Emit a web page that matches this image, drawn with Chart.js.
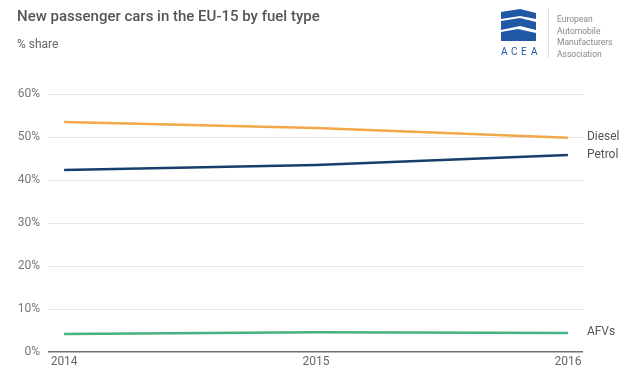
<!DOCTYPE html>
<html>
<head>
<meta charset="utf-8">
<script src="https://cdn.jsdelivr.net/npm/chart.js@4"></script>
<style>
  html, body { margin: 0; padding: 0; background: #fff; }
  #wrap { width: 640px; height: 380px; }
</style>
</head>
<body>
<div id="wrap"><canvas id="chart" width="640" height="380"></canvas></div>
<script>
// Data
const years = [2014, 2015, 2016];
const diesel = [53.5, 52.1, 49.8];
const petrol = [42.3, 43.5, 45.8];
const afvs = [4.2, 4.6, 4.4];
const yTicks = [0, 10, 20, 30, 40, 50, 60];

const FONT = 'Roboto, "Noto Sans", sans-serif';

// Title, subtitle, logo and end-of-line labels
const decor = {
    id: 'decor',
    afterDraw(chart) {
        const c = chart.ctx;
        c.save();
        c.textBaseline = 'middle';
        c.textAlign = 'left';
        c.fillStyle = '#555';
        c.font = '500 15px ' + FONT;
        c.fillText('New passenger cars in the EU-15 by fuel type', 17, 17);
        c.fillStyle = '#666';
        c.font = '12px ' + FONT;
        c.fillText('% share', 17, 45);

        // ACEA logo
        c.fillStyle = '#2158a5';
        c.beginPath();
        c.moveTo(501, 12); c.lineTo(520, 9); c.lineTo(536, 13); c.lineTo(536, 19);
        c.lineTo(520, 16); c.lineTo(501, 19); c.closePath(); c.fill();
        c.beginPath();
        c.moveTo(501, 21); c.lineTo(520, 18); c.lineTo(536, 22); c.lineTo(536, 30);
        c.lineTo(520, 26); c.lineTo(501, 30); c.closePath(); c.fill();
        c.beginPath();
        c.moveTo(501, 32); c.lineTo(518, 29); c.lineTo(536, 33); c.lineTo(536, 41);
        c.lineTo(501, 41); c.closePath(); c.fill();
        c.font = '10px ' + FONT;
        c.fillStyle = '#2158a5';
        const letters = ['A', 'C', 'E', 'A'];
        letters.forEach((l, i) => c.fillText(l, 501 + i * 10, 52));
        c.strokeStyle = '#ddd';
        c.lineWidth = 1;
        c.beginPath(); c.moveTo(548.5, 8); c.lineTo(548.5, 58); c.stroke();
        c.fillStyle = '#888';
        c.font = '8.5px ' + FONT;
        ['European', 'Automobile', 'Manufacturers', 'Association'].forEach((t, i) => {
            c.fillText(t, 557, 20 + i * 11.5);
        });

        // Series labels at the line ends
        const x = chart.scales.x;
        const y = chart.scales.y;
        const lx = x.getPixelForValue(years[years.length - 1]) + 19;
        c.fillStyle = '#555';
        c.font = '12px ' + FONT;
        c.fillText('Diesel', lx, y.getPixelForValue(diesel[2]) - 1);
        c.fillText('Petrol', lx, y.getPixelForValue(petrol[2]));
        c.fillText('AFVs', lx, y.getPixelForValue(afvs[2]) - 1);
        c.restore();
    }
};

new Chart(document.getElementById('chart'), {
    type: 'line',
    data: {
        datasets: [
            { label: 'Diesel', data: years.map((yr, i) => ({ x: yr, y: diesel[i] })), borderColor: '#f0a848' },
            { label: 'Petrol', data: years.map((yr, i) => ({ x: yr, y: petrol[i] })), borderColor: '#173f6c' },
            { label: 'AFVs', data: years.map((yr, i) => ({ x: yr, y: afvs[i] })), borderColor: '#45b282' }
        ]
    },
    options: {
        responsive: false,
        animation: false,
        layout: { padding: { top: 94, right: 57, left: 0, bottom: 0 } },
        elements: {
            line: { borderWidth: 2.5, tension: 0 },
            point: { radius: 0 }
        },
        plugins: {
            legend: { display: false },
            tooltip: { enabled: false }
        },
        scales: {
            x: {
                type: 'linear',
                min: 2014 - 0.064,
                max: 2016 + 0.06,
                afterBuildTicks: (s) => { s.ticks = years.map(v => ({ value: v })); },
                afterFit: (s) => { s.height = 28; },
                ticks: {
                    color: '#666',
                    font: { family: FONT, size: 12 },
                    padding: 3,
                    callback: (v) => String(v)
                },
                grid: { display: false, drawTicks: false },
                border: { display: false }
            },
            y: {
                min: 0,
                max: 60,
                afterBuildTicks: (s) => { s.ticks = yTicks.map(v => ({ value: v })); },
                afterFit: (s) => { s.width = 48; },
                ticks: {
                    color: '#777',
                    font: { family: FONT, size: 12 },
                    padding: 8,
                    callback: (v) => v + '%'
                },
                grid: {
                    drawTicks: false,
                    color: (ctx) => ctx.tick && ctx.tick.value === 0 ? '#707070' : '#e6e6e6',
                    lineWidth: (ctx) => ctx.tick && ctx.tick.value === 0 ? 1.5 : 1
                },
                border: { display: false }
            }
        }
    },
    plugins: [decor]
});
</script>
</body>
</html>
